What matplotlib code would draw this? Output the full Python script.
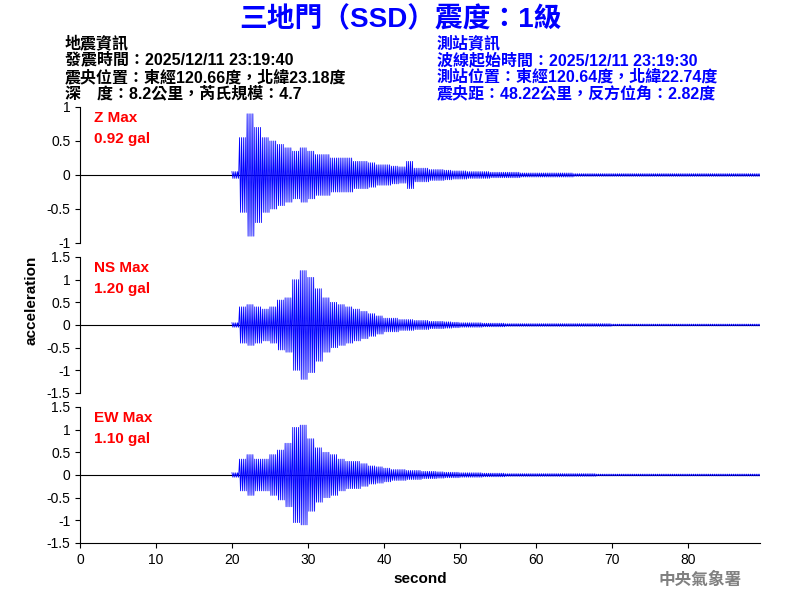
import numpy as np
import matplotlib.pyplot as plt

plt.rcParams['font.family'] = ['Liberation Sans', 'Noto Sans CJK TC', 'DejaVu Sans']

# per-second amplitude envelope (gal), starting at 20 s
t0 = 20
z_amp = [0.05, 0.55, 0.9, 0.7, 0.55, 0.5, 0.45, 0.4, 0.35, 0.4,
         0.35, 0.3, 0.3, 0.25, 0.25, 0.25, 0.2, 0.2, 0.18, 0.15,
         0.15, 0.13, 0.12, 0.2, 0.1, 0.1, 0.08, 0.08, 0.07, 0.06,
         0.06, 0.05, 0.05, 0.05, 0.04, 0.04, 0.04, 0.04, 0.03, 0.03,
         0.03, 0.03, 0.03, 0.03, 0.03, 0.02, 0.02, 0.02, 0.02, 0.02,
         0.02, 0.02, 0.02, 0.02, 0.02, 0.02, 0.02, 0.02, 0.02, 0.02,
         0.02, 0.02, 0.02, 0.02, 0.02, 0.02, 0.02, 0.02, 0.02, 0.02]
ns_amp = [0.05, 0.4, 0.45, 0.4, 0.35, 0.4, 0.55, 0.6, 1.0, 1.2,
          1.05, 0.8, 0.6, 0.5, 0.45, 0.4, 0.35, 0.3, 0.25, 0.2,
          0.15, 0.15, 0.12, 0.12, 0.1, 0.1, 0.08, 0.08, 0.07, 0.06,
          0.05, 0.05, 0.05, 0.04, 0.04, 0.04, 0.03, 0.03, 0.03, 0.03,
          0.03, 0.03, 0.03, 0.03, 0.03, 0.03, 0.03, 0.03, 0.03, 0.03,
          0.02, 0.02, 0.02, 0.02, 0.02, 0.02, 0.02, 0.02, 0.02, 0.02,
          0.02, 0.02, 0.02, 0.02, 0.02, 0.02, 0.02, 0.02, 0.02, 0.02]
ew_amp = [0.05, 0.35, 0.45, 0.35, 0.35, 0.45, 0.55, 0.7, 1.05, 1.1,
          0.8, 0.6, 0.5, 0.45, 0.35, 0.3, 0.3, 0.25, 0.2, 0.18,
          0.15, 0.12, 0.12, 0.1, 0.1, 0.08, 0.08, 0.07, 0.06, 0.06,
          0.05, 0.05, 0.05, 0.04, 0.04, 0.04, 0.03, 0.03, 0.03, 0.03,
          0.03, 0.03, 0.03, 0.03, 0.03, 0.03, 0.03, 0.03, 0.02, 0.02,
          0.02, 0.02, 0.02, 0.02, 0.02, 0.02, 0.02, 0.02, 0.02, 0.02,
          0.02, 0.02, 0.02, 0.02, 0.02, 0.02, 0.02, 0.02, 0.02, 0.02]
labels = ["Z Max\n0.92 gal", "NS Max\n1.20 gal", "EW Max\n1.10 gal"]
ylims = [1, 1.5, 1.5]
yticks = [[-1, -0.5, 0, 0.5, 1], [-1.5, -1, -0.5, 0, 0.5, 1, 1.5], [-1.5, -1, -0.5, 0, 0.5, 1, 1.5]]

fig = plt.figure(figsize=(8, 6), dpi=100)
W, H = 800, 600
boxes = [(107, 243), (257, 393), (407, 543)]
axes = []
for i, amp in enumerate([z_amp, ns_amp, ew_amp]):
    top, bot = boxes[i]
    ax = fig.add_axes([80 / W, 1 - bot / H, 680 / W, (bot - top) / H])
    # each per-second envelope value is drawn as four half-cycles
    a = np.repeat(np.array(amp), 4)
    ts = t0 + np.arange(len(a)) * 0.25
    tt = np.column_stack([ts, ts + 0.125]).ravel()
    yy = np.column_stack([a, -a]).ravel()
    ax.axhline(0, color='black', lw=0.8)
    ax.plot(tt, yy, color='blue', lw=0.6)
    ax.set_xlim(0, 89.5)
    ax.set_ylim(-ylims[i], ylims[i])
    ax.set_yticks(yticks[i])
    ax.set_yticklabels([f"{v:g}" for v in yticks[i]])
    for s in ['top', 'right']:
        ax.spines[s].set_visible(False)
    if i < 2:
        ax.spines['bottom'].set_visible(False)
        ax.set_xticks([])
    ax.tick_params(direction='out', labelsize=10)
    ax.text(0.02, 0.97, labels[i], transform=ax.transAxes, color='red',
            fontsize=11, fontweight='bold', va='top', linespacing=1.6)
    axes.append(ax)

axes[2].set_xticks(range(0, 90, 10))
axes[2].set_xlabel("second", fontsize=11, fontweight='bold')
fig.text(32 / W, 0.5, "acceleration", rotation=90, va='center', ha='center',
         fontsize=11, fontweight='bold')

fig.text(0.5, 1 - 20 / H, "三地門（SSD）震度：1級", ha='center', va='center',
         color='blue', fontsize=20, fontweight='bold')
left_txt = ["地震資訊", "發震時間：2025/12/11 23:19:40",
            "震央位置：東經120.66度，北緯23.18度", "深　度：8.2公里，芮氏規模：4.7"]
right_txt = ["測站資訊", "波線起始時間：2025/12/11 23:19:30",
             "測站位置：東經120.64度，北緯22.74度", "震央距：48.22公里，反方位角：2.82度"]
for k, (l, r) in enumerate(zip(left_txt, right_txt)):
    y = 1 - (43 + k * 17) / H
    fig.text(65 / W, y, l, fontsize=11.5, fontweight='bold', va='center')
    fig.text(437 / W, y, r, fontsize=11.5, fontweight='bold', va='center', color='blue')
fig.text(700 / W, 1 - 580 / H, "中央氣象署", fontsize=12, fontweight='bold',
         color='gray', ha='center', va='center')

fig.savefig("out.png")
